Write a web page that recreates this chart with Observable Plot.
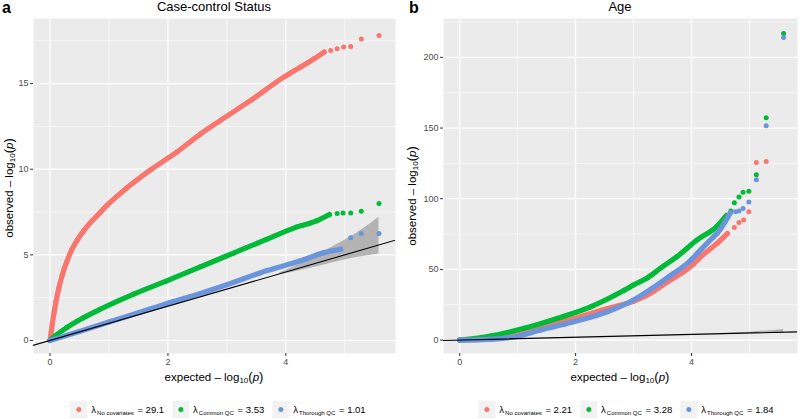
<!DOCTYPE html>
<html>
<head>
<meta charset="utf-8">
<script src="https://cdn.jsdelivr.net/npm/d3@7"></script>
<script src="https://cdn.jsdelivr.net/npm/@observablehq/plot@0.6"></script>
<style>
  html, body { margin: 0; padding: 0; background: #fff; }
  #root { position: relative; width: 800px; height: 419px; overflow: hidden;
          font-family: "Liberation Sans", Arial, sans-serif; color: #000; }
  .abs { position: absolute; white-space: nowrap; }
  .title { font-size: 13px; line-height: 14px; transform: translateX(-50%); }
  .tag { font-size: 16px; line-height: 16px; font-weight: bold; }
  .axt { font-size: 11.5px; line-height: 12px; transform: translateX(-50%); }
  .ayt { font-size: 11.5px; line-height: 12px; transform: translate(-50%, -50%) rotate(-90deg); }
  .axt sub, .ayt sub { font-size: 8px; vertical-align: -2px; line-height: 0; }
  .par { font-size: 13px; }
  .legend { display: flex; align-items: center; transform: translateX(-50%); font-size: 9.5px; color: #000; }
  .item { display: flex; align-items: center; margin: 0 4px; }
  .key { width: 17px; height: 17px; background: #F2F2F2; display: flex; align-items: center; justify-content: center; margin-right: 4px; }
  .key span { width: 5px; height: 5px; border-radius: 50%; display: block; }
  .legend sub { font-size: 6px; vertical-align: -2px; line-height: 0; margin: 0 1px; }
</style>
</head>
<body>
<div id="root"></div>
<script>
// ---------- data ----------
const seriesNames = ["No covariates", "Common QC", "Thorough QC"];
const seriesColors = ["#F8766D", "#00BA38", "#6A95DC"];
const lambdaA = ["29.1", "3.53", "1.01"];
const lambdaB = ["2.21", "3.28", "1.84"];

const xTicks = [0, 2, 4];
const xMinor = [1, 3, 5];
const aYTicks = [0, 5, 10, 15];
const aYMinor = [2.5, 7.5, 12.5, 17.5];
const bYTicks = [0, 50, 100, 150, 200];
const bYMinor = [25, 75, 125, 175, 225];

// Panel a: Case-control Status  [expected, observed]
const aNoCovBand = [[0,0],[0.02,0.5],[0.04,1.0],[0.07,1.65],[0.1,2.25],[0.15,3.05],[0.21,3.85],[0.29,4.65],[0.37,5.3],[0.46,5.85],[0.57,6.4],[0.69,6.9],[0.83,7.4],[0.97,7.9],[1.30,8.9],[1.70,9.95],[2.15,11.0],[2.55,12.05],[2.9,12.87],[3.41,14.03],[3.97,15.39],[4.25,15.97],[4.48,16.45],[4.65,16.84]];
const aNoCovTail = [[4.76,16.93],[4.87,17.03],[4.98,17.13],[5.10,17.17],[5.28,17.61],[5.58,17.81]];
const aCommonBand = [[0,0],[0.1,0.3],[0.29,0.77],[0.55,1.3],[0.86,1.84],[1.42,2.71],[1.98,3.48],[2.55,4.3],[3.11,5.1],[3.67,5.9],[4.18,6.62],[4.51,6.97],[4.74,7.36]];
const aCommonTail = [[4.87,7.41],[4.97,7.45],[5.10,7.45],[5.28,7.55],[5.58,8.0]];
const aThoroughBand = [[0,0],[0.5,0.53],[1,1.08],[1.5,1.62],[2,2.18],[2.55,2.75],[3.11,3.39],[3.67,4.07],[4.25,4.65],[4.65,5.13],[4.93,5.33]];
const aThoroughTail = [[5.10,6.0],[5.28,6.25],[5.58,6.25]];
const aRibbonX = [3.9, 4.1, 4.4, 4.7, 5.0, 5.3, 5.58];
const aRibbonHi = [3.95, 4.25, 4.75, 5.3, 5.85, 6.5, 7.2];
const aRibbonLo = [3.85, 3.97, 4.2, 4.45, 4.7, 4.9, 5.05];

// Panel b: Age
const bNoCovBand = [[0,0],[0.5,0.8],[0.82,2.3],[1.1,5.5],[1.40,9.4],[1.97,15.3],[2.55,22.4],[3.0,27.5],[3.2,31],[3.35,34.5],[3.58,41],[4.04,54],[4.1,56.6],[4.44,68.4],[4.62,75.4]];
const bNoCovTail = [[4.74,79.7],[4.82,83.2],[4.9,84.9],[4.99,90.7],[5.12,125.6],[5.29,126.3]];
const bCommonBand = [[0,0],[0.53,2.8],[1.11,8.3],[1.68,15.3],[2.26,23.5],[2.83,35],[3.0,39],[3.24,44],[3.47,51],[3.75,59],[4.1,71],[4.44,80.5],[4.6,88]];
const bCommonTail = [[4.68,91.3],[4.74,97.2],[4.82,101.2],[4.89,104.5],[4.99,105.2],[5.12,117],[5.29,157.3],[5.59,216.8]];
const bThoroughBand = [[0,0],[0.5,0.5],[0.9,2],[1.40,7.1],[1.97,12.9],[2.55,20],[3.0,28.3],[3.3,36],[3.58,44],[4.0,57],[4.1,61.3],[4.38,73],[4.44,75.4],[4.67,90]];
const bThoroughTail = [[4.76,90.7],[4.82,91.4],[4.89,93.1],[4.99,97.6],[5.12,113.5],[5.29,151.7],[5.59,214]];
const bRibbonX = [4.5, 5.0, 5.59];
const bRibbonHi = [4.6, 5.6, 7.5];
const bRibbonLo = [4.4, 4.8, 5.2];

const identityX = [-0.5, 6.5];

// ---------- drawing ----------
const toObj = a => a.map(([x, y]) => ({x, y}));
const root = document.getElementById("root");

function panel(o) {
  const ribbon = o.ribbonX.map((x, i) => ({x, lo: o.ribbonLo[i], hi: o.ribbonHi[i]}));
  const marks = [
    Plot.frame({fill: "#EBEBEB", stroke: null}),
    Plot.ruleX(xMinor, {stroke: "#fff", strokeWidth: 0.6}),
    Plot.ruleY(o.yMinor, {stroke: "#fff", strokeWidth: 0.6}),
    Plot.ruleX(xTicks, {stroke: "#fff", strokeWidth: 1.2}),
    Plot.ruleY(o.yTicks, {stroke: "#fff", strokeWidth: 1.2}),
    Plot.areaY(ribbon, {x: "x", y1: "lo", y2: "hi", fill: "#A9A9A9", fillOpacity: 0.85, curve: "monotone-x"})
  ];
  o.bands.forEach((band, i) => {
    const b = toObj(band), t = toObj(o.tails[i]);
    marks.push(Plot.line(b, {x: "x", y: "y", stroke: seriesColors[i], strokeWidth: 5.2, strokeLinecap: "round", strokeLinejoin: "round", curve: "monotone-x"}));
    marks.push(Plot.dot(b.concat(t), {x: "x", y: "y", r: 2.5, fill: seriesColors[i], stroke: null}));
  });
  marks.push(Plot.line(identityX.map(v => ({x: v, y: v})), {x: "x", y: "y", stroke: "#000", strokeWidth: 1.1, clip: true}));
  marks.push(Plot.axisX({ticks: xTicks, tickFormat: d => String(d), tickSize: 3, tickPadding: 2, stroke: "#333", fill: "#4D4D4D", label: null}));
  marks.push(Plot.axisY({ticks: o.yTicks, tickFormat: d => String(d), tickSize: 3, tickPadding: 2, stroke: "#333", fill: "#4D4D4D", label: null}));
  const svg = Plot.plot({
    width: 400, height: 370,
    marginTop: 18, marginBottom: 17, marginLeft: o.ml, marginRight: o.mr,
    x: {domain: o.xDomain},
    y: {domain: o.yDomain},
    style: {fontFamily: "'Liberation Sans', Arial, sans-serif", fontSize: "9px", background: "transparent", overflow: "visible"},
    marks
  });
  const wrap = document.createElement("div");
  wrap.className = "abs";
  wrap.style.left = o.left + "px";
  wrap.style.top = "0px";
  wrap.appendChild(svg);
  root.appendChild(wrap);
}

panel({left: 0, ml: 33, mr: 5, xDomain: [-0.28, 5.86], yDomain: [-0.76, 18.8],
  yTicks: aYTicks, yMinor: aYMinor,
  bands: [aNoCovBand, aCommonBand, aThoroughBand], tails: [aNoCovTail, aCommonTail, aThoroughTail],
  ribbonX: aRibbonX, ribbonHi: aRibbonHi, ribbonLo: aRibbonLo});
panel({left: 400, ml: 43, mr: 3, xDomain: [-0.28, 5.83], yDomain: [-9.5, 227.5],
  yTicks: bYTicks, yMinor: bYMinor,
  bands: [bNoCovBand, bCommonBand, bThoroughBand], tails: [bNoCovTail, bCommonTail, bThoroughTail],
  ribbonX: bRibbonX, ribbonHi: bRibbonHi, ribbonLo: bRibbonLo});

function addDiv(cls, html, left, top) {
  const d = document.createElement("div");
  d.className = "abs " + cls;
  d.innerHTML = html;
  d.style.left = left + "px";
  d.style.top = top + "px";
  root.appendChild(d);
  return d;
}
const logLabel = w => `${w} – log<sub>10</sub><span class="par">(</span><i>p</i><span class="par">)</span>`;

addDiv("tag", "a", 2, 0);
addDiv("tag", "b", 409, 0);
addDiv("title", "Case-control Status", 214, 0);
addDiv("title", "Age", 620, 0);
addDiv("axt", logLabel("expected"), 214, 371);
addDiv("axt", logLabel("expected"), 620, 371);
addDiv("ayt", logLabel("observed"), 9, 188);
addDiv("ayt", logLabel("observed"), 412, 196);

function legend(values, cx) {
  const items = seriesNames.map((n, i) =>
    `<div class="item"><div class="key"><span style="background:${seriesColors[i]}"></span></div>` +
    `<div>λ<sub>${n}</sub> = ${values[i]}</div></div>`).join("");
  addDiv("legend", items, cx, 401);
}
legend(lambdaA, 218);
legend(lambdaB, 626);
</script>
</body>
</html>
